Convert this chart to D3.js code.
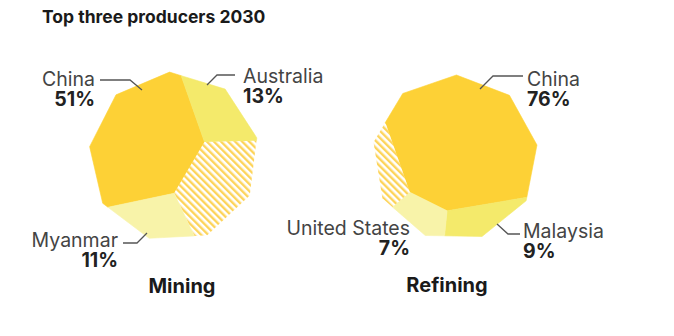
<!DOCTYPE html>
<html>
<head>
<meta charset="utf-8">
<script src="https://cdn.jsdelivr.net/npm/d3@7"></script>
<style>
  html, body { margin: 0; padding: 0; background: #fff; }
  svg { display: block; font-family: Inter, Roboto, "Liberation Sans", sans-serif; }
</style>
</head>
<body>
<svg id="chart" width="674" height="336"></svg>
<script>
// ---- data ----
const title = "Top three producers 2030";
const stages = ["Mining", "Refining"];
const miningCountries = ["China", "Australia", "Other", "Myanmar"];
const miningShares = [51, 13, 25, 11];
const refiningCountries = ["China", "Malaysia", "United States", "Other"];
const refiningShares = [76, 9, 7, 8];

// ---- layout ----
// seed points of each cell, in unit-radius coordinates of the outline
const miningSeeds = [[-0.30, -0.10], [0.61, -0.42], [0.63, 0.45], [-0.11, 0.80]];
const refiningSeeds = [[0.09, -0.15], [0.25, 0.79], [-0.35, 0.73], [-0.82, 0.17]];

const panels = [
  {
    name: stages[0], countries: miningCountries, shares: miningShares, seeds: miningSeeds,
    cx: 174, cy: 157, r: 85, rot: -3, caption: [182, 293],
    labels: {
      "China":     { anchor: "end",   at: [-79, -71], leader: [[-74, -77], [-44, -77], [-32, -67]] },
      "Australia": { anchor: "start", at: [69, -74],  leader: [[61, -82], [43, -82], [33, -72]] },
      "Myanmar":   { anchor: "end",   at: [-56, 90],  leader: [[-51, 86], [-37, 86], [-27, 76]] }
    }
  },
  {
    name: stages[1], countries: refiningCountries, shares: refiningShares, seeds: refiningSeeds,
    cx: 455, cy: 158, r: 83, rot: 1, caption: [447, 292],
    labels: {
      "China":         { anchor: "start", at: [72, -72], leader: [[68, -82], [38, -82], [25, -69]] },
      "Malaysia":      { anchor: "start", at: [68, 80],  leader: [[65, 76], [53, 76], [42, 66]] },
      "United States": { anchor: "end",   at: [-45, 77], leader: null }
    }
  }
];

const rankColors = ["#fdd136", "#f4ea6b", "#f8f3a9"];
const hatchColor = "#fdd45a";

const svg = d3.select("#chart");

// diagonal hatch for the unnamed remainder
const defs = svg.append("defs");
const pat = defs.append("pattern")
  .attr("id", "hatch")
  .attr("patternUnits", "userSpaceOnUse")
  .attr("width", 5).attr("height", 5)
  .attr("patternTransform", "rotate(-45)");
pat.append("rect").attr("width", 5).attr("height", 5).attr("fill", "#fff");
pat.append("rect").attr("width", 2.4).attr("height", 5).attr("fill", hatchColor);

svg.append("text")
  .attr("x", 42).attr("y", 23)
  .attr("font-size", 17.5).attr("font-weight", 700)
  .attr("fill", "#1a1a1a")
  .text(title);

// regular nonagon outline, unit radius
function outline(rotDeg) {
  return d3.range(9).map(k => {
    const a = (rotDeg + k * 40) * Math.PI / 180;
    return [Math.sin(a), -Math.cos(a)];
  });
}

// keep the part of a convex polygon where a*x + b*y <= c
function clipHalf(poly, a, b, c) {
  const out = [];
  for (let i = 0; i < poly.length; i++) {
    const P = poly[i], Q = poly[(i + 1) % poly.length];
    const fp = a * P[0] + b * P[1] - c, fq = a * Q[0] + b * Q[1] - c;
    if (fp <= 0) out.push(P);
    if ((fp < 0 && fq > 0) || (fp > 0 && fq < 0)) {
      const t = fp / (fp - fq);
      out.push([P[0] + t * (Q[0] - P[0]), P[1] + t * (Q[1] - P[1])]);
    }
  }
  return out;
}

// power diagram of weighted seeds inside the outline
function powerCells(poly, seeds, w) {
  return seeds.map((p, i) => {
    let cell = poly;
    seeds.forEach((q, j) => {
      if (i === j) return;
      const a = 2 * (q[0] - p[0]), b = 2 * (q[1] - p[1]);
      const c = q[0] * q[0] + q[1] * q[1] - p[0] * p[0] - p[1] * p[1] - w[j] + w[i];
      cell = clipHalf(cell, a, b, c);
    });
    return cell;
  });
}

const areaOf = c => c.length > 2 ? Math.abs(d3.polygonArea(c)) : 0;

// weights tuned so each cell's area is proportional to its share
function voronoiTreemap(poly, seeds, shares) {
  const total = areaOf(poly);
  const sum = d3.sum(shares);
  const w = seeds.map(() => 0);
  for (let it = 0; it < 4000; it++) {
    const cells = powerCells(poly, seeds, w);
    cells.forEach((c, i) => {
      w[i] += 0.3 * (shares[i] / sum * total - areaOf(c));
    });
  }
  return powerCells(poly, seeds, w);
}

panels.forEach(panel => {
  const x = d3.scaleLinear().domain([-1, 1]).range([panel.cx - panel.r, panel.cx + panel.r]);
  const y = d3.scaleLinear().domain([-1, 1]).range([panel.cy - panel.r, panel.cy + panel.r]);
  const cells = voronoiTreemap(outline(panel.rot), panel.seeds, panel.shares);

  // colour by rank among the named countries
  const named = panel.countries
    .map((c, i) => ({ c, v: panel.shares[i] }))
    .filter(d => d.c !== "Other")
    .sort((a, b) => b.v - a.v)
    .map(d => d.c);
  const fillOf = c => c === "Other" ? "url(#hatch)" : rankColors[named.indexOf(c)];

  const g = svg.append("g");
  const line = d3.line().x(d => x(d[0])).y(d => y(d[1])).curve(d3.curveLinearClosed);

  g.selectAll("path.cell")
    .data(cells.map((cell, i) => ({ cell, country: panel.countries[i] })))
    .join("path")
    .attr("class", "cell")
    .attr("d", d => line(d.cell))
    .attr("fill", d => fillOf(d.country))
    .attr("stroke", d => d.country === "Other" ? "none" : fillOf(d.country))
    .attr("stroke-width", 0.6);

  // callouts
  panel.countries.forEach((country, i) => {
    const spec = panel.labels[country];
    if (!spec) return;
    const tx = panel.cx + spec.at[0], ty = panel.cy + spec.at[1];
    if (spec.leader) {
      g.append("path")
        .attr("d", d3.line()(spec.leader.map(p => [panel.cx + p[0], panel.cy + p[1]])))
        .attr("fill", "none")
        .attr("stroke", "#555")
        .attr("stroke-width", 1.3);
    }
    const t = g.append("text")
      .attr("x", tx).attr("y", ty)
      .attr("text-anchor", spec.anchor)
      .attr("fill", "#444");
    t.append("tspan")
      .attr("x", tx)
      .attr("font-size", 19.5).attr("font-weight", 400)
      .text(country);
    t.append("tspan")
      .attr("x", tx).attr("dy", 20)
      .attr("font-size", 19.5).attr("font-weight", 700)
      .attr("fill", "#222")
      .text(panel.shares[i] + "%");
  });

  g.append("text")
    .attr("x", panel.caption[0]).attr("y", panel.caption[1])
    .attr("text-anchor", "middle")
    .attr("font-size", 20).attr("font-weight", 700)
    .attr("fill", "#1a1a1a")
    .text(panel.name);
});
</script>
</body>
</html>
